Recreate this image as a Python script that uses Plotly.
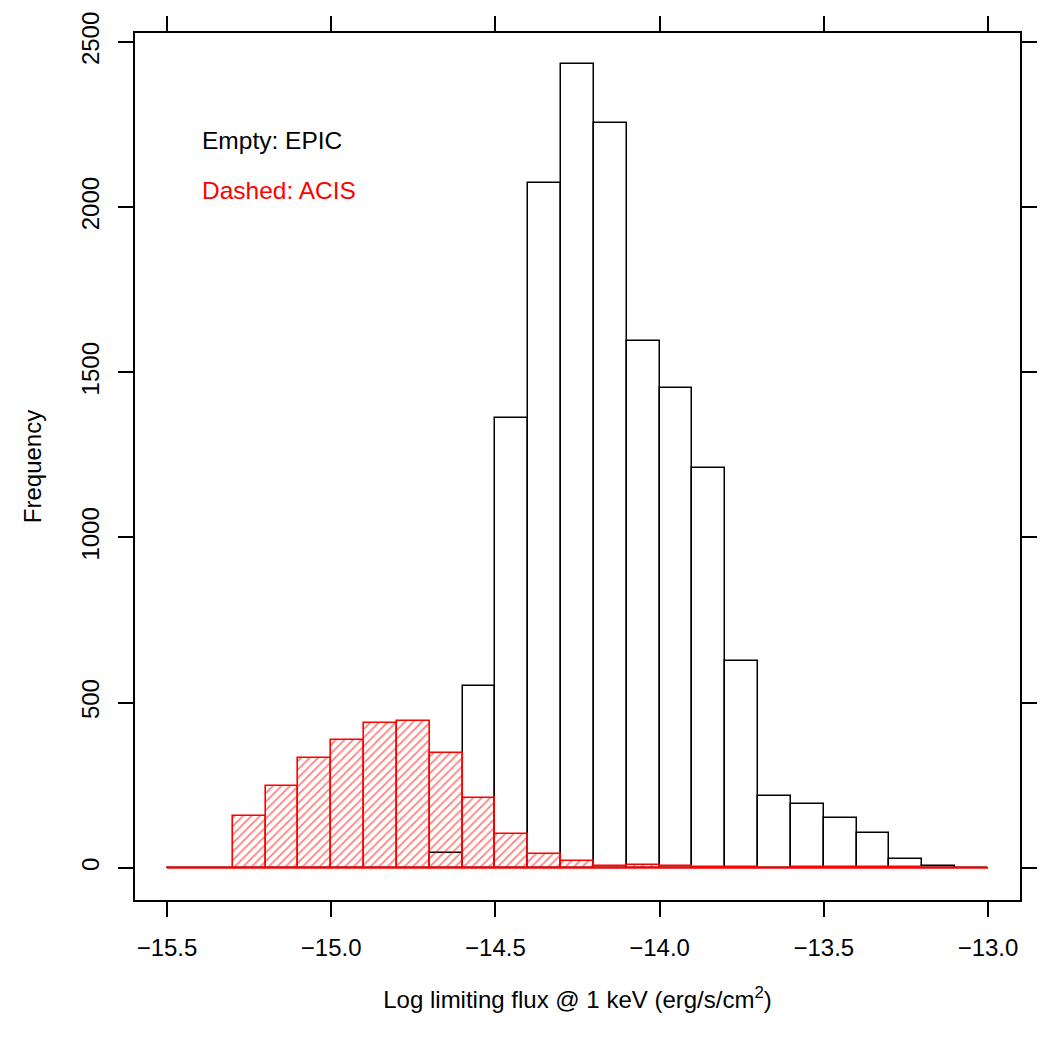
import plotly.graph_objects as go

# Histogram bin left edges (bin width 0.1)
bin_left = [-15.5, -15.4, -15.3, -15.2, -15.1, -15.0, -14.9, -14.8, -14.7, -14.6,
            -14.5, -14.4, -14.3, -14.2, -14.1, -14.0, -13.9, -13.8, -13.7, -13.6,
            -13.5, -13.4, -13.3, -13.2, -13.1]
bin_width = 0.1

epic_counts = [0, 0, 0, 0, 0, 0, 0, 0, 46, 550,
               1361, 2073, 2433, 2255, 1596, 1454, 1210, 627, 218, 192,
               150, 105, 27, 6, 0]

acis_counts = [0, 0, 157, 248, 333, 387, 437, 445, 347, 211,
               102, 43, 21, 7, 9, 5, 4, 3, 0, 1,
               1, 2, 1, 0, 0]

x_ticks = [-15.5, -15.0, -14.5, -14.0, -13.5, -13.0]
x_tick_labels = ["\u221215.5", "\u221215.0", "\u221214.5", "\u221214.0", "\u221213.5", "\u221213.0"]
y_ticks = [0, 500, 1000, 1500, 2000, 2500]
y_tick_labels = ["0", "500", "1000", "1500", "2000", "2500"]

centers = [b + bin_width / 2 for b in bin_left]
x_min = bin_left[0]
x_max = bin_left[-1] + bin_width

FONT = "Liberation Sans, Arial, Helvetica, sans-serif"

fig = go.Figure()

fig.add_trace(go.Bar(
    x=centers, y=epic_counts, width=bin_width,
    marker=dict(color="rgba(0,0,0,0)", line=dict(color="black", width=1.5)),
    name="EPIC", showlegend=False, hoverinfo="x+y",
))

fig.add_trace(go.Bar(
    x=centers, y=acis_counts, width=bin_width,
    marker=dict(color="rgba(0,0,0,0)", line=dict(color="#ff0000", width=1.6),
                pattern=dict(shape="/", fgcolor="#ff0000", bgcolor="rgba(0,0,0,0)",
                             size=6, solidity=0.3, fillmode="overlay")),
    name="ACIS", showlegend=False, hoverinfo="x+y",
))

# zero baseline of the red histogram
fig.add_trace(go.Scatter(
    x=[x_min, x_max], y=[0, 0], mode="lines",
    line=dict(color="#ff0000", width=1.8), showlegend=False, hoverinfo="skip",
))

fig.add_annotation(x=-15.398, y=2201, text="Empty: EPIC", showarrow=False,
                   xanchor="left", yanchor="middle", font=dict(size=24.5, color="black", family=FONT))
fig.add_annotation(x=-15.398, y=2050, text="Dashed: ACIS", showarrow=False,
                   xanchor="left", yanchor="middle", font=dict(size=24.5, color="#ff0000", family=FONT))

axis_common = dict(
    showgrid=False, zeroline=False, showline=True, linecolor="black", linewidth=1.5,
    mirror="ticks", ticks="outside", ticklen=15, tickwidth=1.5, tickcolor="black",
    tickfont=dict(size=24, color="black", family=FONT),
)

fig.update_xaxes(
    range=[-15.5974, -12.9026], tickmode="array", tickvals=x_ticks, ticktext=x_tick_labels,
    title=dict(text="Log limiting flux @ 1 keV (erg/s/cm<sup>2</sup>)",
               font=dict(size=24, color="black", family=FONT), standoff=32),
    ticklabelstandoff=10,
    **axis_common,
)
fig.update_yaxes(
    range=[-97.4, 2527.2], tickmode="array", tickvals=y_ticks, ticktext=y_tick_labels,
    tickangle=-90,
    title=dict(text="Frequency", font=dict(size=24, color="black", family=FONT), standoff=28),
    ticklabelstandoff=10,
    **axis_common,
)

fig.update_layout(
    width=1050, height=1050,
    margin=dict(l=135, r=30, t=30, b=150),
    barmode="overlay", bargap=0,
    plot_bgcolor="white", paper_bgcolor="white",
    font=dict(family=FONT, color="black"),
)

fig.write_html("out.html")
